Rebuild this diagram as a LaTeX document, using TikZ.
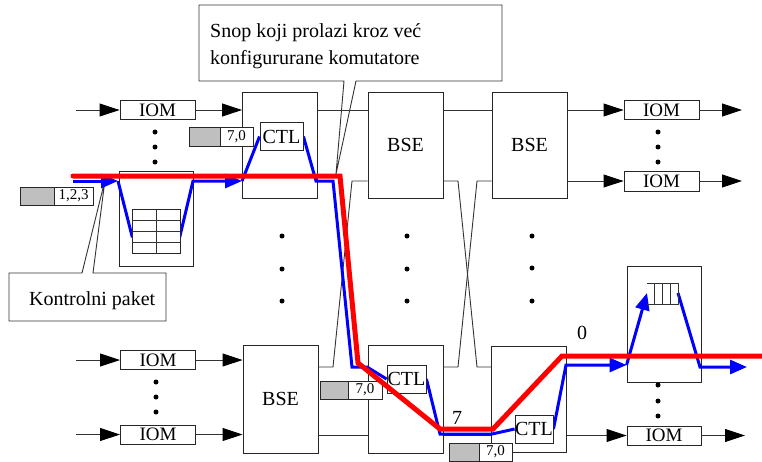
\documentclass[tikz,border=0pt]{standalone}
\usepackage{fontspec}
\setmainfont{Liberation Serif}
\newfontfamily\tnr{Liberation Serif}
\usetikzlibrary{arrows.meta}
\pgfdeclarelayer{bluel}
\pgfdeclarelayer{overl}
\pgfdeclarelayer{redl}
\pgfsetlayers{main,bluel,overl,redl}
\begin{document}
\begin{tikzpicture}[x=1pt,y=-1pt,
  ln/.style={draw=black!80,line width=0.9pt},
  bx/.style={draw=black!85,line width=0.9pt,fill=white,inner sep=0pt,rectangle},
  iom/.style={bx,minimum width=75pt,minimum height=19pt,font=\tnr\fontsize{19}{19}\selectfont},
  sw/.style={bx,minimum width=75pt,minimum height=106pt,font=\tnr\fontsize{20}{20}\selectfont},
  ctlbox/.style={bx,minimum height=28pt,font=\tnr\fontsize{20}{20}\selectfont},
  tagw/.style={bx,minimum height=18pt,font=\tnr\fontsize{15}{15}\selectfont},
  tagg/.style={bx,fill=gray!50,minimum height=18pt},
  arr/.style={ln,-{Triangle[length=20pt,width=13pt,color=black]}},
  bl/.style={draw=blue,line width=3pt},
  barr/.style={bl,-{Triangle[length=17pt,width=14pt]}},
  rd/.style={draw=red,line width=5pt,line cap=round},
  dotn/.style={circle,fill=black,inner sep=0pt,minimum size=5pt},
  lbl/.style={font=\tnr\fontsize{20}{20}\selectfont,inner sep=0pt},
]
\useasboundingbox (0,0) rectangle (762,461);
\fill[white] (0,0) rectangle (762,461);

% callouts
\draw[ln,fill=white] (199,5) -- (502,5) -- (502,81) -- (356,81) -- (336,174) -- (344,81) -- (199,81) -- cycle;
\node[lbl,anchor=base west] (snop1) at (210,37) {Snop koji prolazi kroz već};
\node[lbl,anchor=base west] (snop2) at (210,64) {konfigururane komutatore};
\draw[ln,fill=white] (9,273) -- (82,273) -- (105,180) -- (93,273) -- (166,273) -- (166,321) -- (9,321) -- cycle;
\node[lbl,anchor=base west] (kp) at (29,305) {Kontrolni paket};

% boxes
\node[iom] (iomTL) at (157.5,110) {IOM};
\node[bx,minimum width=74pt,minimum height=95pt] (buf) at (156,218.5) {};
\node[iom] (iomBL1) at (158,360) {IOM};
\node[iom] (iomBL2) at (158,434.5) {IOM};
\node[sw] (c1t) at (280,145) {};
\node[sw,minimum height=108pt] (c1b) at (280.5,399) {BSE};
\node[sw] (c2t) at (405.5,145) {BSE};
\node[sw,minimum height=108pt] (c2b) at (405.5,399) {};
\node[sw] (c3t) at (529.5,145) {BSE};
\node[sw] (c3b) at (529,399) {};
\node[iom] (iomTR1) at (661.5,110) {IOM};
\node[iom,minimum height=20pt] (iomTR2) at (661.5,181) {IOM};
\node[bx,minimum width=74pt,minimum height=116pt] (qbox) at (664,324) {};
\node[iom,minimum width=74pt] (iomBR) at (664,435.5) {IOM};

% inputs
\coordinate (inTL) at (76,110);
\coordinate (inBL1) at (76,360);
\coordinate (inBL2) at (76,434.5);
\draw[arr] (inTL) -- (iomTL.west);
\draw[arr] (iomTL.east) -- (c1t.west |- iomTL.east);
\draw[arr] (inBL1) -- (iomBL1.west);
\draw[arr] (iomBL1.east) -- (c1b.west |- iomBL1.east);
\draw[arr] (inBL2) -- (iomBL2.west);
\draw[arr] (iomBL2.east) -- (c1b.west |- iomBL2.east);

% links between stages
\draw[ln] (c1t.east |- 0,110) -- (c2t.west |- 0,110);
\draw[ln] (c2t.east |- 0,110) -- (c3t.west |- 0,110);
\draw[ln] (c1b.east |- 0,435) -- (c2b.west |- 0,435);
\draw[ln] (c2b.east |- 0,435) -- (c3b.west |- 0,435);
\draw[ln] (c1t.east |- 0,181) -- (333,181) -- (352,367) -- (c2b.west |- 0,367);
\draw[ln] (c1b.east |- 0,367) -- (333,367) -- (352,181) -- (c2t.west |- 0,181);
\draw[ln] (c2t.east |- 0,181) -- (458,181) -- (477,367) -- (c3b.west |- 0,367);
\draw[ln] (c2b.east |- 0,367) -- (458,367) -- (477,181) -- (c3t.west |- 0,181);

% outputs
\coordinate (oTR1) at (742,110);
\coordinate (oTR2) at (742,181);
\coordinate (oBR) at (745,435.5);
\draw[arr] (c3t.east |- iomTR1.west) -- (iomTR1.west);
\draw[arr] (c3t.east |- iomTR2.west) -- (iomTR2.west);
\draw[arr] (iomTR1.east) -- (oTR1);
\draw[arr] (iomTR2.east) -- (oTR2);
\draw[arr] (c3b.east |- iomBR.west) -- (iomBR.west);
\draw[arr] (iomBR.east) -- (oBR);

% dots
\foreach \x/\y [count=\i] in {155/132,155/147,155/162,156/382,156/397,156/412,
  282/236,282/269,282/301,407/236,407/269,407/301,532/236,532/268,532/301,
  658/132,658/147,658/162,658/385,658/401,658/416}
  \node[dotn] (d\i) at (\x,\y) {};

\begin{pgfonlayer}{overl}
\node[ctlbox,minimum width=43pt] (ctl1) at (281.5,136.5) {CTL};
\node[ctlbox,minimum width=39pt] (ctl2) at (406.5,379) {CTL};
\node[ctlbox,minimum width=38pt] (ctl3) at (534,429) {CTL};
% table in buffer
\node[bx,minimum width=48pt,minimum height=44pt] (tbl) at (156,231) {};
\draw[ln] (tbl.north) -- (tbl.south);
\foreach \y in {220,231,242} \draw[ln] (tbl.west |- 0,\y) -- (tbl.east |- 0,\y);
% queue
\draw[ln] (647,283) -- (678,283) -- (678,304) -- (647,304);
\foreach \x in {654,662,670} \draw[ln] (\x,283) -- (\x,304);
% tags
\node[tagg,minimum width=34pt] (tg0) at (37,196) {};
\node[tagw,minimum width=39pt] (tw0) at (73.5,196) {1,2,3};
\node[tagg,minimum width=31pt,minimum height=19pt] (tg1) at (204.5,136.5) {};
\node[tagw,minimum width=33pt,minimum height=19pt] (tw1) at (236.5,136.5) {7,0};
\node[tagg,minimum width=28pt] (tg2) at (334,390) {};
\node[tagw,minimum width=34pt] (tw2) at (365,390) {7,0};
\node[tagg,minimum width=30pt] (tg3) at (464,452) {};
\node[tagw,minimum width=33pt] (tw3) at (495.5,452) {7,0};
% labels
\node[lbl] (l7) at (457,418) {7};
\node[lbl] (l0) at (582,333) {0};
\end{pgfonlayer}

\begin{pgfonlayer}{bluel}
\draw[barr] (73,181) -- (118,181);
\draw[barr] (118,181) -- (132,236) -- (180,236) -- (193,181) -- (c1t.west |- 0,181);
\draw[bl] (c1t.west |- 0,181) -- (ctl1.west);
\draw[bl] (ctl1.east) -- (316,181) -- (333,181) -- (352,367) -- (367,367) -- (ctl2.west);
\draw[bl] (ctl2.east) -- (440,434) -- (492,434) -- (ctl3.west);
\draw[barr] (ctl3.east) -- (566,365) -- (qbox.west |- 0,365);
\draw[barr] (qbox.west |- 0,365) -- (647,293);
\draw[barr] (678,293) -- (700,367) -- (747,367);
\end{pgfonlayer}

\begin{pgfonlayer}{redl}
\draw[rd] (73,176) -- (340,176) -- (358,363) -- (440,429) -- (493,429) -- (562,356) -- (765,356);
\end{pgfonlayer}
\end{tikzpicture}
\end{document}
